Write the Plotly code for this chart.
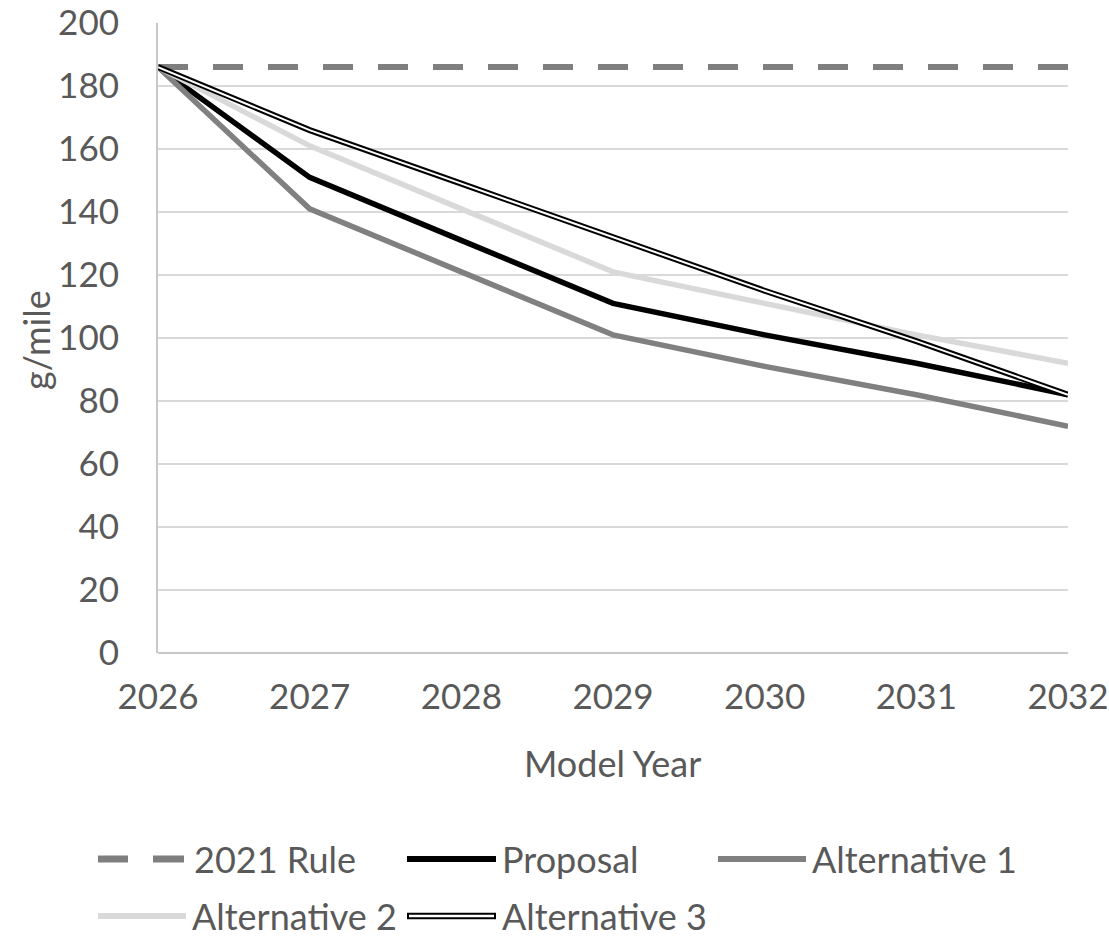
import plotly.graph_objects as go

# Model years and fleet-average CO2 targets (g/mile)
years = [2026, 2027, 2028, 2029, 2030, 2031, 2032]
rule_2021 = [186, 186, 186, 186, 186, 186, 186]
proposal = [186, 151, 131, 111, 101, 92, 82]
alternative_1 = [186, 141, 121, 101, 91, 82, 72]
alternative_2 = [186, 161, 141, 121, 111, 101, 92]
alternative_3 = [186, 166, 149, 132, 115, 99, 82]

y_ticks = list(range(0, 201, 20))

W, H = 1109, 943
L, R, T, B = 158, 41, 23, 290
PW, PH = W - L - R, H - T - B

FONT = "Lato, 'Open Sans', sans-serif"
TXT = "#595959"
TICK_SIZE = 35
LABEL_SIZE = 36


def px(x):
    return (x - L) / PW


def py(y):
    return (H - B - y) / PH


fig = go.Figure()

fig.add_trace(go.Scatter(x=years, y=rule_2021, mode="lines", name="2021 Rule",
                         line=dict(color="#7f7f7f", width=6, dash="30px,25px")))
fig.add_trace(go.Scatter(x=years, y=proposal, mode="lines", name="Proposal",
                         line=dict(color="#000000", width=5.5)))
fig.add_trace(go.Scatter(x=years, y=alternative_1, mode="lines", name="Alternative 1",
                         line=dict(color="#808080", width=5.5)))
fig.add_trace(go.Scatter(x=years, y=alternative_2, mode="lines", name="Alternative 2",
                         line=dict(color="#d9d9d9", width=5.5)))
# double line: black body with a thin white core
fig.add_trace(go.Scatter(x=years, y=alternative_3, mode="lines", name="Alternative 3",
                         line=dict(color="#000000", width=6)))
fig.add_trace(go.Scatter(x=years, y=alternative_3, mode="lines", name="Alternative 3 core",
                         line=dict(color="#ffffff", width=2), showlegend=False))

fig.update_layout(
    width=W, height=H,
    margin=dict(l=L, r=R, t=T, b=B, pad=0, autoexpand=False),
    paper_bgcolor="white", plot_bgcolor="white",
    showlegend=False,
    font=dict(family=FONT, size=TICK_SIZE, color=TXT),
    hovermode=False,
)

fig.update_xaxes(
    range=[2026, 2032], tickvals=years, ticktext=[str(y) for y in years],
    showgrid=False, zeroline=False, automargin=False,
    showline=False, ticks="", ticklabelstandoff=20,
    tickfont=dict(family=FONT, size=TICK_SIZE, color=TXT),
)
fig.update_yaxes(
    range=[0, 200], tickvals=y_ticks, automargin=False,
    showgrid=True, gridcolor="#d9d9d9", gridwidth=2,
    zeroline=True, zerolinecolor="#c8c8c8", zerolinewidth=2,
    showline=True, linecolor="#c8c8c8", linewidth=2,
    ticks="", ticklabelstandoff=30,
    tickfont=dict(family=FONT, size=TICK_SIZE, color=TXT),
)

annotations = [
    dict(text="Model Year", x=px(612), y=py(763), xref="paper", yref="paper",
         showarrow=False, xanchor="center", yanchor="middle",
         font=dict(family=FONT, size=LABEL_SIZE, color=TXT)),
    dict(text="g/mile", x=px(36), y=py(340), xref="paper", yref="paper",
         showarrow=False, xanchor="center", yanchor="middle", textangle=-90,
         font=dict(family=FONT, size=LABEL_SIZE, color=TXT)),
]

shapes = []


def seg(x0, x1, y, color, width, dash="solid"):
    shapes.append(dict(type="line", xref="paper", yref="paper",
                       x0=px(x0), x1=px(x1), y0=py(y), y1=py(y),
                       line=dict(color=color, width=width, dash=dash)))


def label(text, x, y):
    annotations.append(dict(text=text, x=px(x), y=py(y), xref="paper", yref="paper",
                            showarrow=False, xanchor="left", yanchor="middle",
                            font=dict(family=FONT, size=LABEL_SIZE, color=TXT)))


row1, row2 = 859, 916
# 2021 Rule
seg(98, 128, row1, "#7f7f7f", 7)
seg(153, 184, row1, "#7f7f7f", 7)
label("2021 Rule", 192, row1)
# Proposal
seg(407, 496, row1, "#000000", 6)
label("Proposal", 500, row1)
# Alternative 1
seg(718, 806, row1, "#808080", 6)
label("Alternative 1", 810, row1)
# Alternative 2
seg(98, 186, row2, "#d9d9d9", 6)
label("Alternative 2", 190, row2)
# Alternative 3
seg(407, 496, row2, "#000000", 6.5)
seg(409, 494, row2, "#ffffff", 2.5)
label("Alternative 3", 500, row2)

fig.update_layout(annotations=annotations, shapes=shapes)

fig.write_html("out.html")
